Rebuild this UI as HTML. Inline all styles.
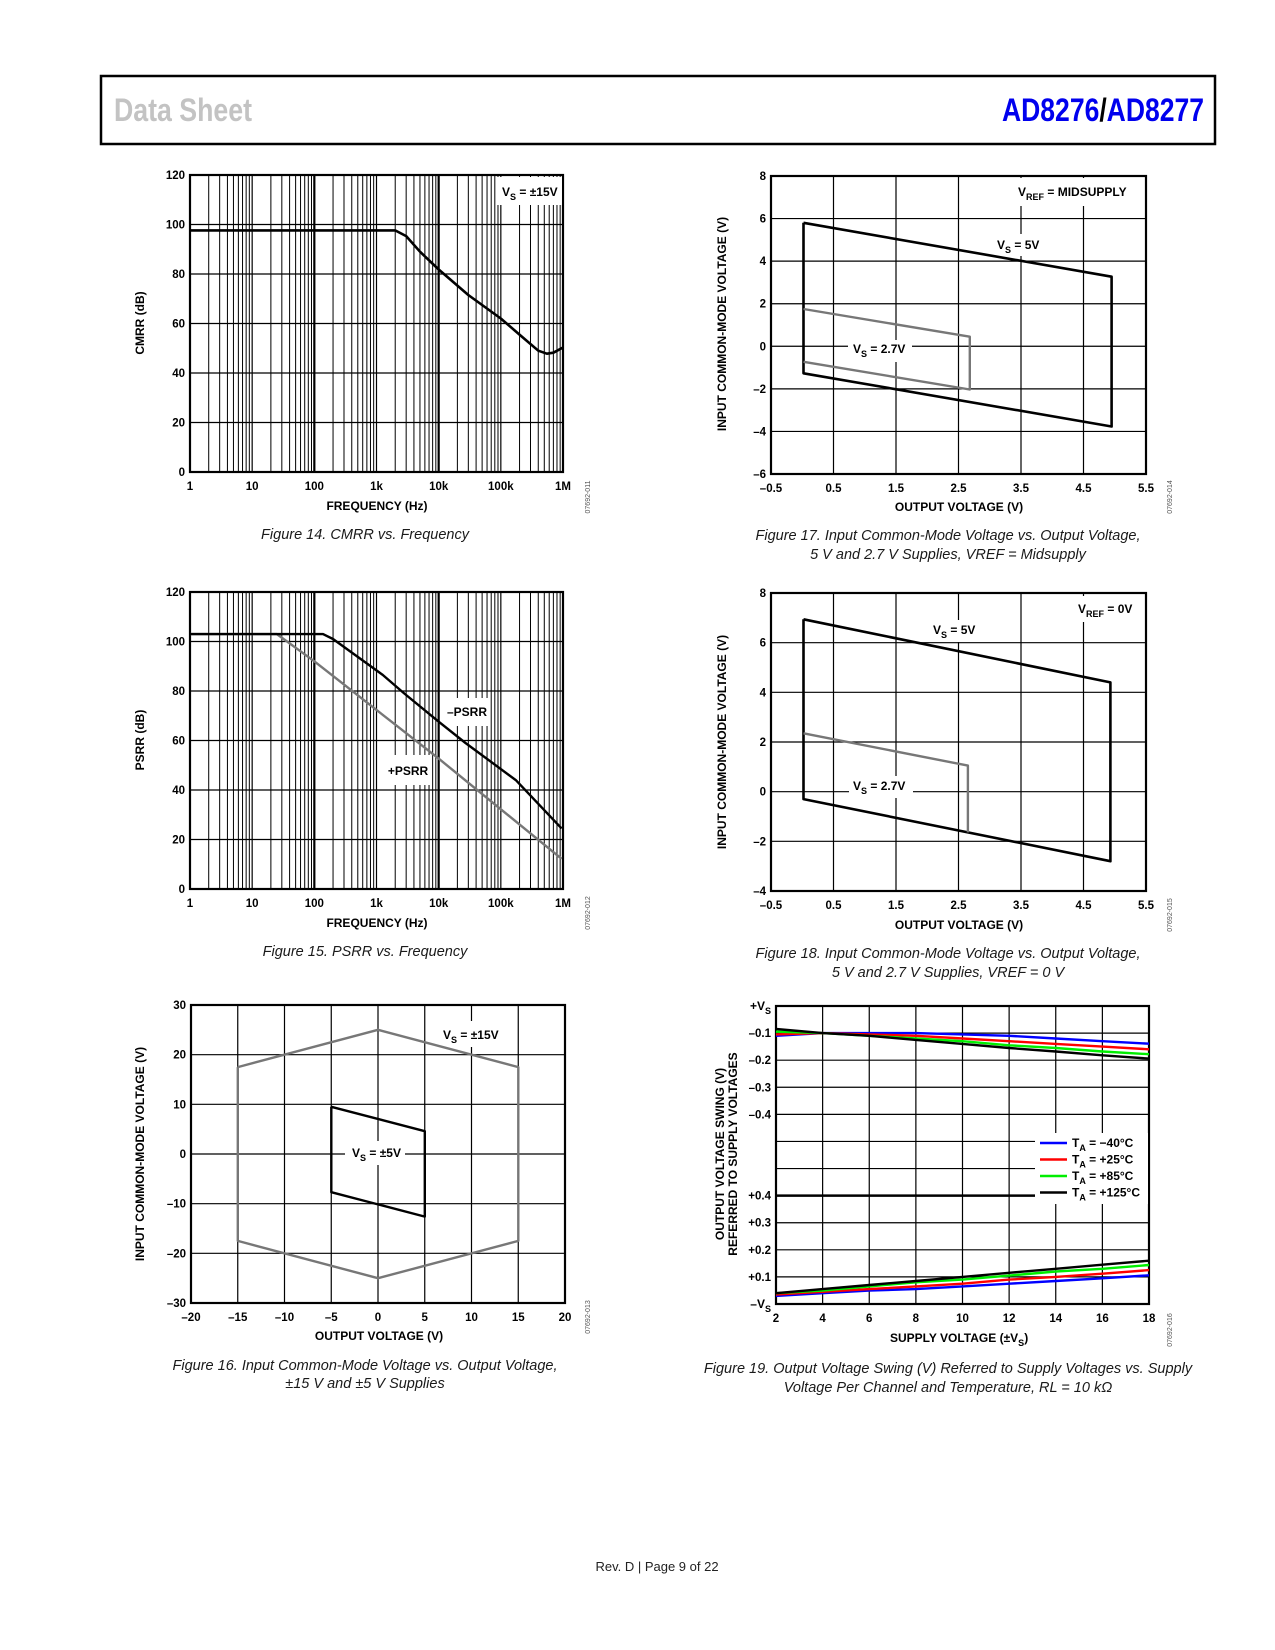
<!DOCTYPE html>
<html><head><meta charset="utf-8"><title>AD8276/AD8277 Data Sheet page 9</title>
<style>
html,body{margin:0;padding:0;background:#fff;}
svg{display:block;font-family:"Liberation Sans",sans-serif;}
.t{font-weight:bold;font-size:11.5px;fill:#000;}
.ti{font-weight:bold;font-size:12px;fill:#000;}
.cap{font-style:italic;font-size:14.5px;fill:#1a1a1a;}
.code{font-size:7px;fill:#555;}
</style></head>
<body>
<svg id="pg" xmlns="http://www.w3.org/2000/svg" width="1275" height="1650" viewBox="0 0 1275 1650">
<rect x="101" y="76" width="1114" height="68" fill="#fff" stroke="#000" stroke-width="2.5"/>
<text x="114" y="121" font-size="32" font-weight="bold" fill="#c3c3c3" textLength="138" lengthAdjust="spacingAndGlyphs">Data Sheet</text>
<text x="1002" y="121" font-size="32" font-weight="bold" textLength="202" lengthAdjust="spacingAndGlyphs"><tspan fill="#0000ee">AD8276</tspan><tspan fill="#000">/</tspan><tspan fill="#0000ee">AD8277</tspan></text>
<text x="657" y="1571" font-size="13" text-anchor="middle" fill="#222">Rev. D | Page 9 of 22</text>
</svg>
<script>
// ---------- data ----------
// Fig 14 CMRR vs frequency
const cmrrFreq = [1, 2000, 3000, 5000, 10000, 30000, 100000, 200000, 400000, 550000, 700000, 1000000];
const cmrrDb   = [97.6, 97.6, 95.3, 89, 81.8, 71.5, 62, 55.5, 49, 47.8, 48.2, 50.3];
// Fig 15 PSRR vs frequency
const negPsrrFreq = [1, 138, 200, 1260, 2800, 10000, 27000, 174000, 950000];
const negPsrrDb   = [103, 103, 101, 86.5, 79, 67.6, 59, 44, 24.5];
const posPsrrFreq = [1, 25, 100, 10000, 950000];
const posPsrrDb   = [103, 103, 92, 52.7, 12.2];
const freqTickLabels = ["1", "10", "100", "1k", "10k", "100k", "1M"];
const dbTickLabels = ["0", "20", "40", "60", "80", "100", "120"];
// Fig 16
const hex15X = [-15, 0, 15, 15, 0, -15, -15];
const hex15Y = [17.5, 25, 17.5, -17.5, -25, -17.5, 17.5];
const quad5X = [-5, 5, 5, -5, -5];
const quad5Y = [9.5, 4.6, -12.6, -7.7, 9.5];
const fig16XTicks = [-20, -15, -10, -5, 0, 5, 10, 15, 20];
const fig16YTicks = [-30, -20, -10, 0, 10, 20, 30];
// Fig 17
const f17Vs5X = [0.02, 4.95, 4.95, 0.02, 0.02];
const f17Vs5Y = [5.8, 3.27, -3.77, -1.27, 5.8];
const f17Vs27X = [0.02, 2.68, 2.68, 0.02];
const f17Vs27Y = [1.75, 0.45, -2.03, -0.73];
const fig17XTicks = [-0.5, 0.5, 1.5, 2.5, 3.5, 4.5, 5.5];
const fig17YTicks = [-6, -4, -2, 0, 2, 4, 6, 8];
// Fig 18
const f18Vs5X = [0.02, 4.93, 4.93, 0.02, 0.02];
const f18Vs5Y = [6.94, 4.4, -2.8, -0.3, 6.94];
const f18Vs27X = [0.02, 2.65, 2.65];
const f18Vs27Y = [2.35, 1.05, -1.64];
const fig18YTicks = [-4, -2, 0, 2, 4, 6, 8];
// Fig 19
const supplyV = [2, 4, 6, 8, 10, 12, 14, 16, 18];
const hiM40  = [-0.11, -0.10, -0.10, -0.10, -0.105, -0.11, -0.12, -0.13, -0.139];
const hiP25  = [-0.105, -0.10, -0.105, -0.11, -0.12, -0.13, -0.14, -0.15, -0.16];
const hiP85  = [-0.095, -0.10, -0.11, -0.12, -0.13, -0.145, -0.155, -0.168, -0.178];
const hiP125 = [-0.085, -0.10, -0.11, -0.125, -0.14, -0.155, -0.168, -0.182, -0.194];
const loM40  = [0.03, 0.04, 0.05, 0.055, 0.065, 0.075, 0.085, 0.095, 0.106];
const loP25  = [0.035, 0.045, 0.055, 0.065, 0.075, 0.09, 0.10, 0.112, 0.125];
const loP85  = [0.04, 0.05, 0.065, 0.08, 0.09, 0.105, 0.12, 0.13, 0.144];
const loP125 = [0.04, 0.055, 0.07, 0.085, 0.10, 0.115, 0.13, 0.145, 0.16];
const tempLabels = ["−40°C", "+25°C", "+85°C", "+125°C"];
const tempColors = ["#0000ff", "#ff0000", "#00ee00", "#000000"];
const fig19YLabels = ["+V", "–0.1", "–0.2", "–0.3", "–0.4", "", "", "+0.4", "+0.3", "+0.2", "+0.1", "–V"];

// ---------- helpers ----------
const NS = "http://www.w3.org/2000/svg";
const svg = document.getElementById("pg");
function mk(tag, attrs, name, parent) {
  const el = document.createElementNS(NS, tag);
  for (const k in attrs) el.setAttribute(k, attrs[k]);
  
  
  (parent || svg).appendChild(el);
  return el;
}
function txt(x, y, s, cls, name, anchor, extra) {
  const a = Object.assign({x: x, y: y, class: cls, "text-anchor": anchor || "middle"}, extra || {});
  const el = mk("text", a, name);
  el.textContent = s;
  return el;
}
function line(x1, y1, x2, y2, w, name, col) {
  return mk("line", {x1: x1, y1: y1, x2: x2, y2: y2, stroke: col || "#000", "stroke-width": w}, name);
}
function poly(xs, ys, fx, fy, col, w, name) {
  const pts = xs.map((v, i) => fx(v).toFixed(1) + "," + fy(ys[i]).toFixed(1)).join(" ");
  return mk("polyline", {points: pts, fill: "none", stroke: col, "stroke-width": w, "stroke-linejoin": "round"}, name);
}
function vlabel(x, y, parts, name, anchor) {
  // parts: [main, sub, rest]
  const el = mk("text", {x: x, y: y, class: "ti", "text-anchor": anchor || "start"}, name);
  const a = document.createElementNS(NS, "tspan"); a.textContent = parts[0]; el.appendChild(a);
  const b = document.createElementNS(NS, "tspan"); b.textContent = parts[1]; b.setAttribute("dy", "4"); b.setAttribute("font-size", "9"); el.appendChild(b);
  const c = document.createElementNS(NS, "tspan"); c.textContent = parts[2]; c.setAttribute("dy", "-4"); el.appendChild(c);
  return el;
}
function whiteBox(x, y, w, h, name) { return mk("rect", {x: x, y: y, width: w, height: h, fill: "#fff"}, name); }
function ylab(x, cy, s, name) {
  return txt(x, cy, s, "ti", name, "middle", {transform: "rotate(-90 " + x + " " + cy + ")"});
}
function code(x, y, s, name) {
  return txt(x, y, s, "code", name, "middle", {transform: "rotate(-90 " + x + " " + y + ")"});
}

// ---------- log charts (Fig 14, 15) ----------
function logChart(pre, x0, x1, y0, y1) {
  const fx = f => x0 + Math.log10(f) / 6 * (x1 - x0);
  const fy = d => y1 - d / 120 * (y1 - y0);
  for (let d = 0; d < 6; d++) for (let k = 2; k <= 9; k++) {
    line(fx(k * Math.pow(10, d)), y0, fx(k * Math.pow(10, d)), y1, 1, pre + "-minor-gridline");
  }
  for (let d = 1; d < 6; d++) line(fx(Math.pow(10, d)), y0, fx(Math.pow(10, d)), y1, (d === 2 || d === 4) ? 2.2 : 1.2, pre + "-decade-gridline");
  dbTickLabels.forEach((s, i) => {
    const v = i * 20;
    if (i > 0 && i < 6) line(x0, fy(v), x1, fy(v), 1.2, pre + "-h-gridline");
    txt(x0 - 5, fy(v) + 4, s, "t", pre + "-y-tick-label", "end");
  });
  freqTickLabels.forEach((s, i) => txt(fx(Math.pow(10, i)), y1 + 18, s, "t", pre + "-x-tick-label"));
  mk("rect", {x: x0, y: y0, width: x1 - x0, height: y1 - y0, fill: "none", stroke: "#000", "stroke-width": 2.2}, pre + "-plot-frame");
  return {fx: fx, fy: fy};
}
// Fig 14
let a = logChart("fig14", 190, 563, 175, 472);
whiteBox(496, 177, 66, 28, "fig14-label-bg");
poly(cmrrFreq, cmrrDb, a.fx, a.fy, "#000", 2.6, "fig14-cmrr-curve");
vlabel(502, 196, ["V", "S", " = ±15V"], "fig14-vs-label");
ylab(144, 323, "CMRR (dB)", "fig14-y-axis-title");
txt(377, 510, "FREQUENCY (Hz)", "ti", "fig14-x-axis-title");
txt(365, 539, "Figure 14. CMRR vs. Frequency", "cap", "fig14-caption");
code(590, 497, "07692-011", "fig14-code");
// Fig 15
a = logChart("fig15", 190, 563, 592, 889);
whiteBox(445, 698, 45, 28, "fig15-neg-label-bg");
whiteBox(386, 755, 45, 30, "fig15-pos-label-bg");
poly(posPsrrFreq, posPsrrDb, a.fx, a.fy, "#777", 2.4, "fig15-pos-psrr-curve");
poly(negPsrrFreq, negPsrrDb, a.fx, a.fy, "#000", 2.4, "fig15-neg-psrr-curve");
txt(467, 716, "–PSRR", "ti", "fig15-neg-psrr-label");
txt(408, 775, "+PSRR", "ti", "fig15-pos-psrr-label");
ylab(144, 740, "PSRR (dB)", "fig15-y-axis-title");
txt(377, 927, "FREQUENCY (Hz)", "ti", "fig15-x-axis-title");
txt(365, 956, "Figure 15. PSRR vs. Frequency", "cap", "fig15-caption");
code(590, 913, "07692-012", "fig15-code");

// ---------- linear charts ----------
function linChart(pre, x0, x1, y0, y1, xmin, xmax, ymin, ymax, xt, yt, xlbl, ylbl) {
  const fx = v => x0 + (v - xmin) / (xmax - xmin) * (x1 - x0);
  const fy = v => y1 - (v - ymin) / (ymax - ymin) * (y1 - y0);
  xt.forEach((v, i) => {
    if (v > xmin && v < xmax) line(fx(v), y0, fx(v), y1, 1.2, pre + "-v-gridline");
    txt(fx(v), y1 + 18, xlbl[i], "t", pre + "-x-tick-label");
  });
  yt.forEach((v, i) => {
    if (v > ymin && v < ymax) line(x0, fy(v), x1, fy(v), 1.2, pre + "-h-gridline");
    txt(x0 - 5, fy(v) + 4, ylbl[i], "t", pre + "-y-tick-label", "end");
  });
  mk("rect", {x: x0, y: y0, width: x1 - x0, height: y1 - y0, fill: "none", stroke: "#000", "stroke-width": 2.2}, pre + "-plot-frame");
  return {fx: fx, fy: fy};
}
const neg = v => (v < 0 ? "–" + Math.abs(v) : "" + v);
// Fig 16
a = linChart("fig16", 191, 565, 1005, 1303, -20, 20, -30, 30, fig16XTicks, fig16YTicks, fig16XTicks.map(neg), fig16YTicks.map(neg));
whiteBox(437, 1021, 70, 26, "fig16-label15-bg");
whiteBox(345, 1141, 60, 24, "fig16-label5-bg");
poly(hex15X, hex15Y, a.fx, a.fy, "#777", 2.4, "fig16-vs15-boundary");
poly(quad5X, quad5Y, a.fx, a.fy, "#000", 2.4, "fig16-vs5-boundary");
vlabel(443, 1039, ["V", "S", " = ±15V"], "fig16-vs15-label");
vlabel(352, 1157, ["V", "S", " = ±5V"], "fig16-vs5-label");
ylab(144, 1154, "INPUT COMMON-MODE VOLTAGE (V)", "fig16-y-axis-title");
txt(379, 1340, "OUTPUT VOLTAGE (V)", "ti", "fig16-x-axis-title");
txt(365, 1370, "Figure 16. Input Common-Mode Voltage vs. Output Voltage,", "cap", "fig16-caption-line1");
txt(365, 1388, "±15 V and ±5 V Supplies", "cap", "fig16-caption-line2");
code(590, 1317, "07692-013", "fig16-code");
// Fig 17
a = linChart("fig17", 771, 1146, 176, 474, -0.5, 5.5, -6, 8, fig17XTicks, fig17YTicks, fig17XTicks.map(neg), fig17YTicks.map(neg));
whiteBox(1012, 178, 132, 28, "fig17-vref-bg");
whiteBox(994, 234, 52, 22, "fig17-vs5-bg");
whiteBox(848, 340, 64, 22, "fig17-vs27-bg");
poly(f17Vs5X, f17Vs5Y, a.fx, a.fy, "#000", 2.6, "fig17-vs5-boundary");
poly(f17Vs27X.concat([f17Vs27X[0]]).slice(0, 4), f17Vs27Y.slice(0, 4), a.fx, a.fy, "#777", 2.4, "fig17-vs27-boundary");
vlabel(1018, 196, ["V", "REF", " = MIDSUPPLY"], "fig17-vref-label");
vlabel(997, 249, ["V", "S", " = 5V"], "fig17-vs5-label");
vlabel(853, 353, ["V", "S", " = 2.7V"], "fig17-vs27-label");
ylab(726, 324, "INPUT COMMON-MODE VOLTAGE (V)", "fig17-y-axis-title");
txt(959, 511, "OUTPUT VOLTAGE (V)", "ti", "fig17-x-axis-title");
txt(948, 540, "Figure 17. Input Common-Mode Voltage vs. Output Voltage,", "cap", "fig17-caption-line1");
txt(948, 559, "5 V and 2.7 V Supplies, VREF = Midsupply", "cap", "fig17-caption-line2");
code(1172, 497, "07692-014", "fig17-code");
// Fig 18
a = linChart("fig18", 771, 1146, 593, 891, -0.5, 5.5, -4, 8, fig17XTicks, fig18YTicks, fig17XTicks.map(neg), fig18YTicks.map(neg));
whiteBox(1072, 596, 72, 26, "fig18-vref-bg");
whiteBox(928, 620, 52, 22, "fig18-vs5-bg");
whiteBox(849, 776, 64, 22, "fig18-vs27-bg");
poly(f18Vs5X, f18Vs5Y, a.fx, a.fy, "#000", 2.6, "fig18-vs5-boundary");
poly(f18Vs27X, f18Vs27Y, a.fx, a.fy, "#777", 2.4, "fig18-vs27-boundary");
vlabel(1078, 613, ["V", "REF", " = 0V"], "fig18-vref-label");
vlabel(933, 634, ["V", "S", " = 5V"], "fig18-vs5-label");
vlabel(853, 790, ["V", "S", " = 2.7V"], "fig18-vs27-label");
ylab(726, 742, "INPUT COMMON-MODE VOLTAGE (V)", "fig18-y-axis-title");
txt(959, 929, "OUTPUT VOLTAGE (V)", "ti", "fig18-x-axis-title");
txt(948, 958, "Figure 18. Input Common-Mode Voltage vs. Output Voltage,", "cap", "fig18-caption-line1");
txt(948, 977, "5 V and 2.7 V Supplies, VREF = 0 V", "cap", "fig18-caption-line2");
code(1172, 915, "07692-015", "fig18-code");
// Fig 19
(function () {
  const x0 = 776, x1 = 1149, y0 = 1006, y1 = 1304, rows = 11, rh = (y1 - y0) / rows;
  const fx = v => x0 + (v - 2) / 16 * (x1 - x0);
  const fyHi = v => y0 + (Math.abs(v) / 0.1) * rh;
  const fyLo = v => y1 - (v / 0.1) * rh;
  supplyV.forEach(v => {
    if (v > 2 && v < 18) line(fx(v), y0, fx(v), y1, 1.2, "fig19-v-gridline");
    txt(fx(v), y1 + 18, String(v), "t", "fig19-x-tick-label");
  });
  for (let r = 1; r < rows; r++) line(x0, y0 + r * rh, x1, y0 + r * rh, r === 7 ? 2.4 : 1.2, "fig19-h-gridline");
  fig19YLabels.forEach((s, r) => {
    if (!s) return;
    if (s === "+V" || s === "–V") vlabel(x0 - 5, y0 + r * rh + 4, [s, "S", ""], "fig19-y-tick-label", "end");
    else txt(x0 - 5, y0 + r * rh + 4, s, "t", "fig19-y-tick-label", "end");
  });
  mk("rect", {x: x0, y: y0, width: x1 - x0, height: y1 - y0, fill: "none", stroke: "#000", "stroke-width": 2.2}, "fig19-plot-frame");
  const his = [hiM40, hiP25, hiP85, hiP125], los = [loM40, loP25, loP85, loP125];
  his.forEach((s, i) => poly(supplyV, s, fx, fyHi, tempColors[i], 2.4, "fig19-high-swing-" + i));
  los.forEach((s, i) => poly(supplyV, s, fx, fyLo, tempColors[i], 2.4, "fig19-low-swing-" + i));
  whiteBox(1035, 1133, 113, 71, "fig19-legend-bg");
  tempLabels.forEach((s, i) => {
    const y = 1143 + i * 16.5;
    line(1040, y, 1067, y, 2.6, "fig19-legend-swatch", tempColors[i]);
    vlabel(1072, y + 4, ["T", "A", " = " + s], "fig19-legend-entry");
  });
  ylab(724, 1154, "OUTPUT VOLTAGE SWING (V)", "fig19-y-axis-title-line1");
  ylab(737, 1154, "REFERRED TO SUPPLY VOLTAGES", "fig19-y-axis-title-line2");
  vlabel(890, 1342, ["SUPPLY VOLTAGE (±V", "S", ")"], "fig19-x-axis-title");
  txt(948, 1373, "Figure 19. Output Voltage Swing (V) Referred to Supply Voltages vs. Supply", "cap", "fig19-caption-line1");
  txt(948, 1392, "Voltage Per Channel and Temperature, RL = 10 kΩ", "cap", "fig19-caption-line2");
  code(1172, 1330, "07692-016", "fig19-code");
})();
</script>
</body></html>
